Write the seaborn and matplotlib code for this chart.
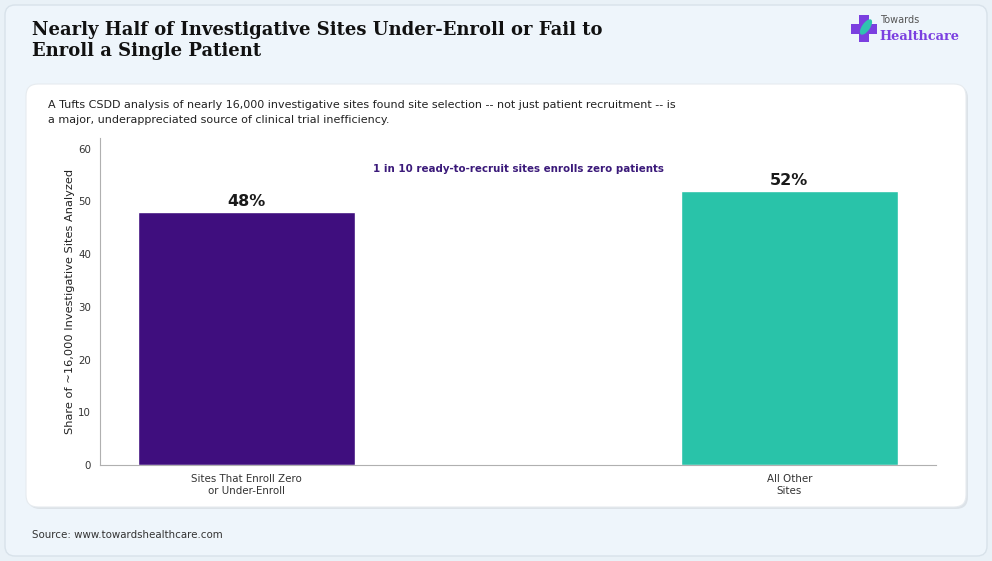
import matplotlib
matplotlib.use("Agg")
import matplotlib.pyplot as plt
from matplotlib.patches import FancyBboxPatch, Rectangle, Ellipse
import pandas as pd
import seaborn as sns

categories = ["Sites That Enroll Zero\nor Under-Enroll", "All Other\nSites"]
shares = [48, 52]
bar_colors = ["#3f0e7e", "#29c3a9"]
value_labels = ["48%", "52%"]
yticks = [0, 10, 20, 30, 40, 50, 60]

title = "Nearly Half of Investigative Sites Under-Enroll or Fail to\nEnroll a Single Patient"
subtitle = ("A Tufts CSDD analysis of nearly 16,000 investigative sites found site selection -- not just patient recruitment -- is\n"
            "a major, underappreciated source of clinical trial inefficiency.")
note = "1 in 10 ready-to-recruit sites enrolls zero patients"
ylabel = "Share of ~16,000 Investigative Sites Analyzed"
source = "Source: www.towardshealthcare.com"

sns.set_style("white")
plt.rcParams["font.family"] = ["DejaVu Sans"]

W, H = 992, 561
fig = plt.figure(figsize=(W / 100, H / 100), dpi=100)
fig.patch.set_facecolor("#e9f1f7")

# background layer in pixel coordinates
bg = fig.add_axes([0, 0, 1, 1], zorder=0)
bg.set_xlim(0, W)
bg.set_ylim(H, 0)
bg.axis("off")
bg.add_patch(FancyBboxPatch((5, 5), W - 10, H - 10, boxstyle="round,pad=0,rounding_size=10",
                            facecolor="#eef5fb", edgecolor="#d8e2ea", lw=1))
bg.add_patch(FancyBboxPatch((28, 86), 940, 423, boxstyle="round,pad=0,rounding_size=12",
                            facecolor="#d5dbe0", edgecolor="none", alpha=0.7))
bg.add_patch(FancyBboxPatch((26, 84), 940, 423, boxstyle="round,pad=0,rounding_size=12",
                            facecolor="white", edgecolor="#e6ebef", lw=0.8))

# logo
bg.add_patch(Rectangle((859, 15), 10, 27, facecolor="#7b3fe0", edgecolor="none"))
bg.add_patch(Rectangle((851, 24), 26, 10, facecolor="#7b3fe0", edgecolor="none"))
bg.add_patch(Ellipse((866, 27), 8, 18, angle=35, facecolor="#2fc3b0", edgecolor="none"))
bg.text(880, 20, "Towards", fontsize=7, color="#555555", va="center", ha="left")
bg.text(879, 36, "Healthcare", fontsize=9.3, color="#7b3fe0", va="center", ha="left",
        family="DejaVu Serif", fontweight="bold")

# text
fig.text(32 / W, 1 - 21 / H, title, fontsize=13, fontweight="bold", family="DejaVu Serif",
         color="#111111", va="top", ha="left", linespacing=1.2)
fig.text(48 / W, 1 - 100 / H, subtitle, fontsize=8, color="#222222", va="top", ha="left",
         linespacing=1.6)
fig.text(32 / W, 1 - 535 / H, source, fontsize=7.4, color="#333333", va="center", ha="left")

# chart
ax = fig.add_axes([100 / W, 1 - 465 / H, 836 / W, 327 / H], zorder=2)
df = pd.DataFrame({"category": categories, "share": shares})
sns.barplot(data=df, x="category", y="share", hue="category", palette=bar_colors,
            width=0.4, saturation=1, legend=False, ax=ax)
ax.set_xlim(-0.27, 1.27)
ax.set_ylim(0, 62)
ax.set_yticks(yticks)
ax.set_facecolor("none")
ax.set_xlabel("")
ax.set_ylabel(ylabel, fontsize=8.2, color="#222222", labelpad=2)
ax.tick_params(axis="both", labelsize=7.4, colors="#333333", length=3, color="#999999")
for side in ["top", "right"]:
    ax.spines[side].set_visible(False)
for side in ["left", "bottom"]:
    ax.spines[side].set_color("#b0b0b0")

for i, (v, lab) in enumerate(zip(shares, value_labels)):
    ax.text(i, v + 0.6, lab, ha="center", va="bottom", fontsize=11.5, fontweight="bold",
            color="#1a1a1a")
ax.text(0.5, 56.2, note, ha="center", va="center", fontsize=7.4, fontweight="bold",
        color="#3b1a7a")

fig.savefig("out.png", dpi=100, facecolor=fig.get_facecolor())
